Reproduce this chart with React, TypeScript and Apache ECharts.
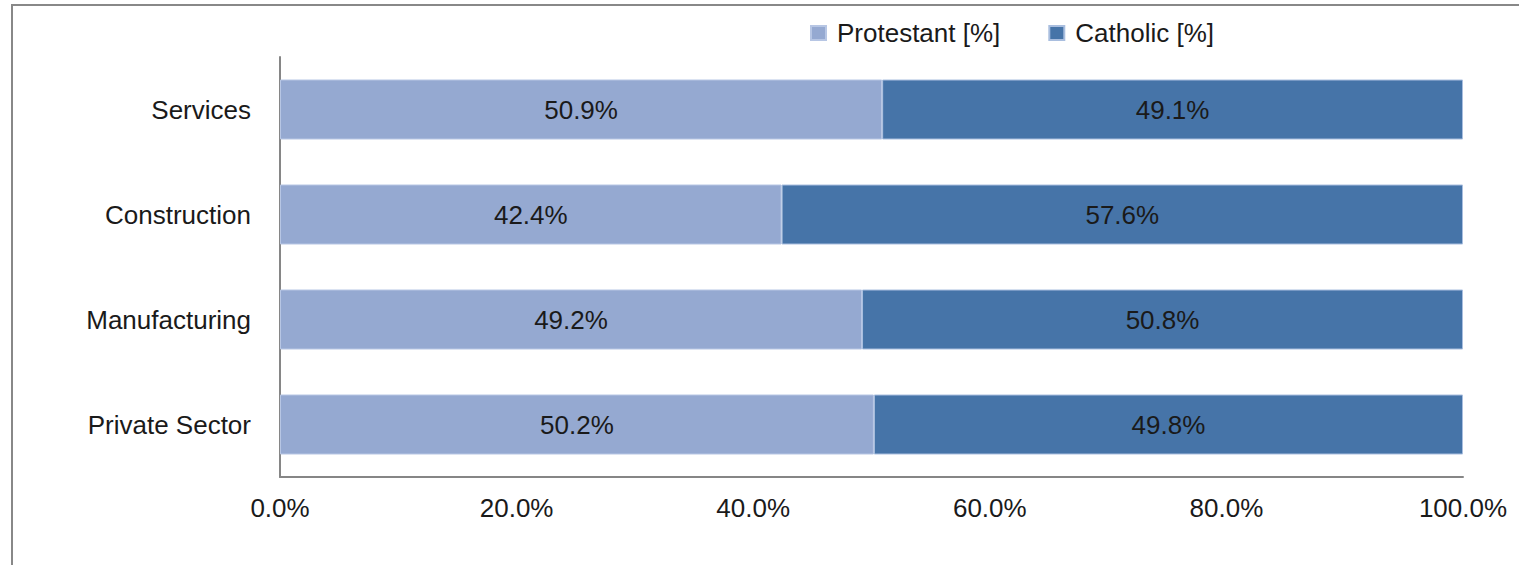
import React, { useEffect, useRef } from "react";
import * as echarts from "echarts";

const categories = ["Private Sector", "Manufacturing", "Construction", "Services"];
const protestant = [50.2, 49.2, 42.4, 50.9];
const catholic = [49.8, 50.8, 57.6, 49.1];
const seriesNames = ["Protestant [%]", "Catholic [%]"];
const xTicks = [0, 20, 40, 60, 80, 100];

export default function App() {
  const ref = useRef<HTMLDivElement>(null);
  useEffect(() => {
    const chart = echarts.init(ref.current!, null, { renderer: "svg" });
    const font = "'Liberation Sans', Arial, sans-serif";
    const labelStyle = {
      show: true,
      position: "inside",
      color: "#1a1a1a",
      fontSize: 26,
      fontFamily: font,
      formatter: (p: any) => p.value.toFixed(1) + "%",
    };
    chart.setOption({
      animation: false,
      backgroundColor: "#ffffff",
      graphic: [
        {
          type: "rect",
          shape: { x: 12, y: 5, width: 1600, height: 700 },
          style: { fill: "none", stroke: "#888888", lineWidth: 2 },
          silent: true,
        },
      ],
      legend: {
        data: seriesNames,
        top: 15,
        left: 805,
        itemWidth: 15,
        itemHeight: 14,
        itemGap: 48,
        icon: "rect",
        textStyle: { fontSize: 26, fontFamily: font, color: "#1a1a1a", padding: [0, 0, 0, 6] },
      },
      grid: { left: 280, right: 56, top: 57, bottom: 88, containLabel: false },
      xAxis: {
        type: "value",
        min: xTicks[0],
        max: xTicks[xTicks.length - 1],
        interval: 20,
        axisLine: { show: true, lineStyle: { color: "#868686", width: 2 } },
        axisTick: { show: false },
        splitLine: { show: false },
        axisLabel: {
          margin: 18,
          fontSize: 26,
          fontFamily: font,
          color: "#1a1a1a",
          formatter: (v: number) => v.toFixed(1) + "%",
        },
      },
      yAxis: {
        type: "category",
        data: categories,
        axisLine: { show: true, lineStyle: { color: "#868686", width: 2 } },
        axisTick: { show: false },
        axisLabel: { margin: 29, fontSize: 26, fontFamily: font, color: "#1a1a1a" },
      },
      series: [
        {
          name: seriesNames[0],
          type: "bar",
          stack: "total",
          barWidth: 60,
          data: protestant,
          itemStyle: { color: "#95A9D1", borderColor: "#B7C6E4", borderWidth: 1 },
          label: labelStyle,
        },
        {
          name: seriesNames[1],
          type: "bar",
          stack: "total",
          barWidth: 60,
          data: catholic,
          itemStyle: { color: "#4674A8", borderColor: "#A9BEDF", borderWidth: 1 },
          label: labelStyle,
        },
      ],
    });
    return () => chart.dispose();
  }, []);
  return (
    <div
      ref={ref}
      style={{ position: "absolute", left: 0, top: 0, width: 1519, height: 565 }}
    />
  );
}
